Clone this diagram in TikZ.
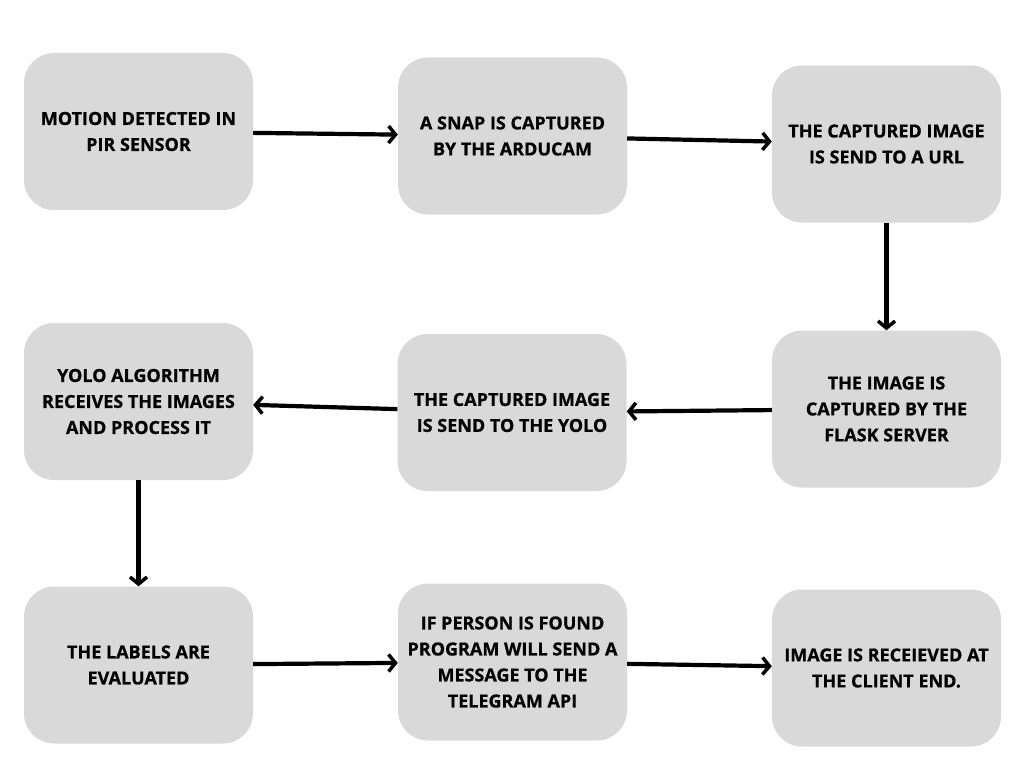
\documentclass[tikz,border=0pt]{standalone}
\usepackage{fontspec}
\setmainfont{Open Sans}[BoldFeatures={FakeBold=0.7}]
\usetikzlibrary{arrows.meta}
\definecolor{boxgray}{HTML}{D9D9D9}
\begin{document}
\begin{tikzpicture}[x=1pt, y=1pt,
		every node/.style={fill=boxgray, rounded corners=30pt, minimum width=229pt, minimum height=157pt, inner sep=0pt, align=center, font=\fontsize{18}{26}\selectfont\bfseries},
		flow/.style={line width=4.2pt, -{Straight Barb[length=7pt, width=17pt, line width=3.5pt]}}]
	\useasboundingbox (0,0) rectangle (1024,-768);
	
	\node at (138.5,-131.5) (motion) {MOTION DETECTED IN\\PIR SENSOR};
	\node at (512.5,-136) (snap) {A SNAP IS CAPTURED\\BY THE ARDUCAM};
	\node at (886.5,-144) (url) {THE CAPTURED IMAGE\\IS SEND TO A URL};
	\node at (886.5,-409) (flask) {THE IMAGE IS\\CAPTURED BY THE\\FLASK SERVER};
	\node at (512,-412.5) (toyolo) {THE CAPTURED IMAGE\\IS SEND TO THE YOLO};
	\node at (138.5,-401.5) (yolo) {YOLO ALGORITHM\\RECEIVES THE IMAGES\\AND PROCESS IT};
	\node at (138.5,-665) (labels) {THE LABELS ARE\\EVALUATED};
	\node at (512.5,-662) (telegram) {IF PERSON IS FOUND\\PROGRAM WILL SEND A\\MESSAGE TO THE\\TELEGRAM API};
	\node at (886.5,-668) (client) {IMAGE IS RECEIEVED AT\\THE CLIENT END.};
	
	\draw[flow] (motion) -- (snap);
	\draw[flow] (snap) -- (url);
	\draw[flow] (url) -- (flask);
	\draw[flow] (flask) -- (toyolo);
	\draw[flow] (toyolo) -- (yolo);
	\draw[flow] (yolo) -- (labels);
	\draw[flow] (labels) -- (telegram);
	\draw[flow] (telegram) -- (client);
\end{tikzpicture}
\end{document}
